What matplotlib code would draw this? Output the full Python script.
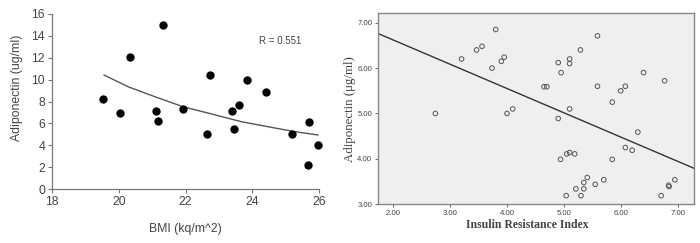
import matplotlib
matplotlib.use("Agg")
import matplotlib.pyplot as plt

# ---- Left panel data: BMI vs Adiponectin ----
bmi = [19.54, 20.05, 20.33, 21.34, 21.11, 21.17, 21.93, 22.63, 22.72,
       23.38, 23.45, 23.61, 23.84, 24.40, 25.20, 25.70, 25.68, 25.98]
adipo_l = [8.23, 6.92, 12.1, 15.0, 7.16, 6.25, 7.29, 5.06, 10.4,
           7.16, 5.49, 7.71, 9.97, 8.84, 5.0, 6.13, 2.2, 4.05]
# trend curve
curve_x = [19.56, 20.28, 21.08, 21.93, 22.78, 23.68, 24.48, 25.28, 25.97]
curve_y = [10.42, 9.35, 8.44, 7.52, 6.86, 6.15, 5.69, 5.24, 4.94]
left_xticks = [18, 20, 22, 24, 26]
left_yticks = [0, 2, 4, 6, 8, 10, 12, 14, 16]

# ---- Right panel data: Insulin resistance index vs Adiponectin ----
iri = [2.74, 3.20, 3.465, 3.56, 3.735, 3.80, 3.90, 3.95, 4.00, 4.10,
       4.65, 4.70, 4.90, 4.90, 4.94, 4.95, 5.05, 5.04, 5.10, 5.10,
       5.10, 5.10, 5.19, 5.21, 5.29, 5.30, 5.35, 5.35, 5.41, 5.55,
       5.59, 5.59, 5.70, 5.85, 5.85, 6.00, 6.08, 6.08, 6.20, 6.30,
       6.40, 6.71, 6.77, 6.84, 6.85, 6.95]
adipo_r = [5.00, 6.20, 6.40, 6.48, 6.00, 6.85, 6.15, 6.24, 5.00, 5.10,
           5.59, 5.59, 6.12, 4.89, 3.99, 5.90, 4.11, 3.19, 4.14, 6.20,
           6.10, 5.10, 4.11, 3.34, 6.40, 3.19, 3.48, 3.34, 3.59, 3.44,
           6.71, 5.60, 3.54, 5.25, 3.99, 5.50, 5.60, 4.25, 4.19, 4.59,
           5.90, 3.19, 5.72, 3.42, 3.39, 3.54]
fit_x = [1.726, 7.287]
fit_y = [6.765, 3.793]
right_xticks = [2, 3, 4, 5, 6, 7]
right_yticks = [3, 4, 5, 6, 7]

fig = plt.figure(figsize=(7.0, 2.43), dpi=100)

# ---------------- Left ----------------
axl = fig.add_axes([0.0743, 0.2222, 0.3814, 0.7202])
axl.scatter(bmi, adipo_l, s=36, color="black", zorder=3, clip_on=False, linewidths=0)
axl.plot(curve_x, curve_y, color="#555555", lw=1.0)
axl.set_xlim(18, 26)
axl.set_ylim(0, 16)
axl.set_xticks(left_xticks)
axl.set_yticks(left_yticks)
for s in ["top", "right"]:
    axl.spines[s].set_visible(False)
for s in ["left", "bottom"]:
    axl.spines[s].set_color("#777777")
    axl.spines[s].set_linewidth(0.9)
axl.tick_params(axis="both", colors="#777777", labelcolor="#444444", labelsize=8.8,
                length=3, width=0.8, direction="out", pad=2)
for lab in axl.get_xticklabels() + axl.get_yticklabels():
    lab.set_family("Liberation Sans")
axl.set_xlabel("BMI (kq/m^2)", fontsize=8.8, color="#444444", family="Liberation Sans")
axl.xaxis.set_label_coords(0.5, -0.195)
axl.set_ylabel("Adiponectin (ug/ml)", fontsize=8.8, color="#444444", family="Liberation Sans")
axl.yaxis.set_label_coords(-0.109, 0.58)
axl.text(24.19, 13.5, "R = 0.551", fontsize=7, color="#444444", family="Liberation Sans", va="center")

# ---------------- Right ----------------
axr = fig.add_axes([0.5396, 0.1593, 0.4518, 0.786])
axr.set_facecolor("#eef0f0")
axr.plot(fit_x, fit_y, color="#333333", lw=1.0)
axr.scatter(iri, adipo_r, s=11, facecolors="none", edgecolors="#555555", linewidths=0.7, zorder=3)
axr.set_xlim(1.726, 7.287)
axr.set_ylim(3.0, 7.207)
axr.set_xticks(right_xticks)
axr.set_yticks(right_yticks)
axr.set_xticklabels([f"{v:.2f}" for v in right_xticks])
axr.set_yticklabels([f"{v:.2f}" for v in right_yticks])
for s in axr.spines.values():
    s.set_color("#888888")
    s.set_linewidth(1.0)
axr.tick_params(axis="both", colors="#666666", labelcolor="#444444", labelsize=5.6,
                length=2.5, width=0.7, direction="out", pad=1.5)
for lab in axr.get_xticklabels() + axr.get_yticklabels():
    lab.set_family("Liberation Sans")
axr.set_xlabel("Insulin Resistance Index", fontsize=8.5, fontweight="bold",
               family="Liberation Serif", color="#444444")
axr.xaxis.set_label_coords(0.473, -0.077)
axr.set_ylabel("Adiponectin (\u03bcg/ml)", fontsize=9.3, family="Liberation Serif",
               color="#444444")
axr.yaxis.set_label_coords(-0.069, 0.5)

fig.savefig("out.png", dpi=100)
